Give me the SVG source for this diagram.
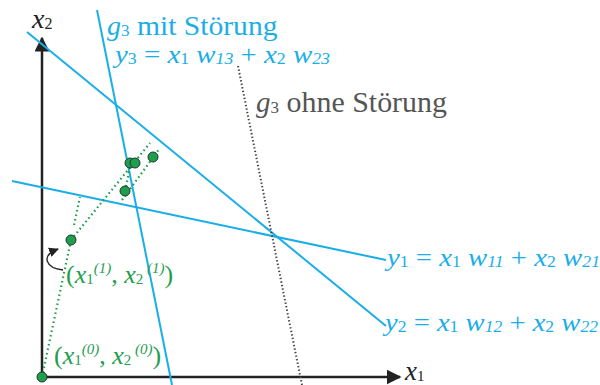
<svg xmlns="http://www.w3.org/2000/svg" width="600" height="385" viewBox="0 0 600 385">
<style>
text{font-family:"Liberation Serif",serif}
.blue{fill:#1aaee8}
.bl{stroke:#1aaee8;stroke-width:2;fill:none}
.grn{fill:#1f9e50}
.gd{stroke:#1f9e50;stroke-width:2.2;stroke-dasharray:1.6 3;fill:none}
.dot{fill:#1f9e50;stroke:#1c3a28;stroke-width:1}
.it{font-style:italic}
.ax{stroke:#222;stroke-width:2.5;fill:none}
</style>
<defs>
<marker id="ah" viewBox="0 0 10 10" refX="9" refY="5" markerWidth="6" markerHeight="6" markerUnits="strokeWidth" orient="auto">
<path d="M0,0 L10,5 L0,10 z" fill="#222"/>
</marker>
<marker id="ah2" viewBox="0 0 10 10" refX="9" refY="5" markerWidth="7" markerHeight="7" markerUnits="strokeWidth" orient="auto">
<path d="M0,0 L10,5 L0,10 z" fill="#222"/>
</marker>
</defs>
<g id="axes">
<line class="ax" x1="42" y1="377" x2="42" y2="38" marker-end="url(#ah)"/>
<line class="ax" x1="42" y1="377" x2="400" y2="377" marker-end="url(#ah)"/>
<text x="32" y="28" font-size="28" fill="#222"><tspan class="it">x</tspan><tspan font-size="16" dy="1">2</tspan></text>
<text x="405" y="380" font-size="27" fill="#222"><tspan class="it">x</tspan><tspan font-size="15" dy="1">1</tspan></text>
</g>
<g id="connectors">
<line class="bl" x1="27" y1="32" x2="386" y2="326"/>
<line class="bl" x1="12" y1="181" x2="386" y2="260"/>
<line class="bl" x1="97" y1="10" x2="172" y2="385"/>
<line x1="238" y1="66" x2="302" y2="385" stroke="#444" stroke-width="2" stroke-dasharray="1.4 2.2"/>
<line class="gd" x1="42" y1="377" x2="71" y2="240"/>
<line class="gd" x1="74" y1="225" x2="80" y2="197"/>
<line class="gd" x1="71" y1="240" x2="150" y2="143"/>
<line class="gd" x1="122" y1="200" x2="160" y2="148"/>
<line class="gd" x1="125" y1="191" x2="131" y2="163"/>
<path d="M63,270 C46,268 40,256 58,249" stroke="#222" stroke-width="1.4" fill="none" marker-end="url(#ah2)"/>
</g>
<g id="points">
<circle class="dot" cx="42" cy="377" r="5"/>
<circle class="dot" cx="71" cy="240" r="5"/>
<circle class="dot" cx="130" cy="163" r="5"/>
<circle class="dot" cx="135" cy="163" r="5"/>
<circle class="dot" cx="125" cy="191" r="5"/>
<circle class="dot" cx="153" cy="157" r="5"/>
</g>
<g id="label-g3mit">
<text class="blue" x="107" y="35" font-size="28"><tspan class="it">g</tspan><tspan font-size="17" dy="1">3</tspan><tspan dy="-1" textLength="148" lengthAdjust="spacingAndGlyphs"> mit Störung</tspan></text>
<text class="blue" x="115" y="63" font-size="26" textLength="215" lengthAdjust="spacingAndGlyphs"><tspan class="it">y</tspan><tspan font-size="16" dy="1">3</tspan><tspan dy="-1"> = </tspan><tspan class="it">x</tspan><tspan font-size="16" dy="1">1</tspan><tspan dy="-1" class="it"> w</tspan><tspan font-size="16" dy="1" class="it">13</tspan><tspan dy="-1"> + </tspan><tspan class="it">x</tspan><tspan font-size="16" dy="1">2</tspan><tspan dy="-1" class="it"> w</tspan><tspan font-size="16" dy="1" class="it">23</tspan></text>
</g>
<g id="label-g3ohne">
<text x="256" y="112" font-size="29" fill="#555"><tspan class="it">g</tspan><tspan font-size="17" dy="1">3</tspan><tspan dy="-1" textLength="168" lengthAdjust="spacingAndGlyphs"> ohne Störung</tspan></text>
</g>
<g id="label-y1">
<text class="blue" x="387" y="266" font-size="26" textLength="213" lengthAdjust="spacingAndGlyphs"><tspan class="it">y</tspan><tspan font-size="16" dy="1">1</tspan><tspan dy="-1"> = </tspan><tspan class="it">x</tspan><tspan font-size="16" dy="1">1</tspan><tspan dy="-1" class="it"> w</tspan><tspan font-size="16" dy="1" class="it">11</tspan><tspan dy="-1"> + </tspan><tspan class="it">x</tspan><tspan font-size="16" dy="1">2</tspan><tspan dy="-1" class="it"> w</tspan><tspan font-size="16" dy="1" class="it">21</tspan></text>
</g>
<g id="label-y2">
<text class="blue" x="385" y="331" font-size="26" textLength="213" lengthAdjust="spacingAndGlyphs"><tspan class="it">y</tspan><tspan font-size="16" dy="1">2</tspan><tspan dy="-1"> = </tspan><tspan class="it">x</tspan><tspan font-size="16" dy="1">1</tspan><tspan dy="-1" class="it"> w</tspan><tspan font-size="16" dy="1" class="it">12</tspan><tspan dy="-1"> + </tspan><tspan class="it">x</tspan><tspan font-size="16" dy="1">2</tspan><tspan dy="-1" class="it"> w</tspan><tspan font-size="16" dy="1" class="it">22</tspan></text>
</g>
<g id="label-p1">
<text class="grn" x="66" y="283" font-size="26"><tspan>(</tspan><tspan class="it">x</tspan><tspan font-size="15" dy="1">1</tspan><tspan font-size="15" class="it" dy="-11">(1)</tspan><tspan dy="10">, </tspan><tspan class="it">x</tspan><tspan font-size="15" dy="1">2</tspan><tspan font-size="15" class="it" dy="-11"> (1)</tspan><tspan dy="10">)</tspan></text>
</g>
<g id="label-p0">
<text class="grn" x="54" y="364" font-size="26"><tspan>(</tspan><tspan class="it">x</tspan><tspan font-size="15" dy="1">1</tspan><tspan font-size="15" class="it" dy="-11">(0)</tspan><tspan dy="10">, </tspan><tspan class="it">x</tspan><tspan font-size="15" dy="1">2</tspan><tspan font-size="15" class="it" dy="-11"> (0)</tspan><tspan dy="10">)</tspan></text>
</g>
</svg>
